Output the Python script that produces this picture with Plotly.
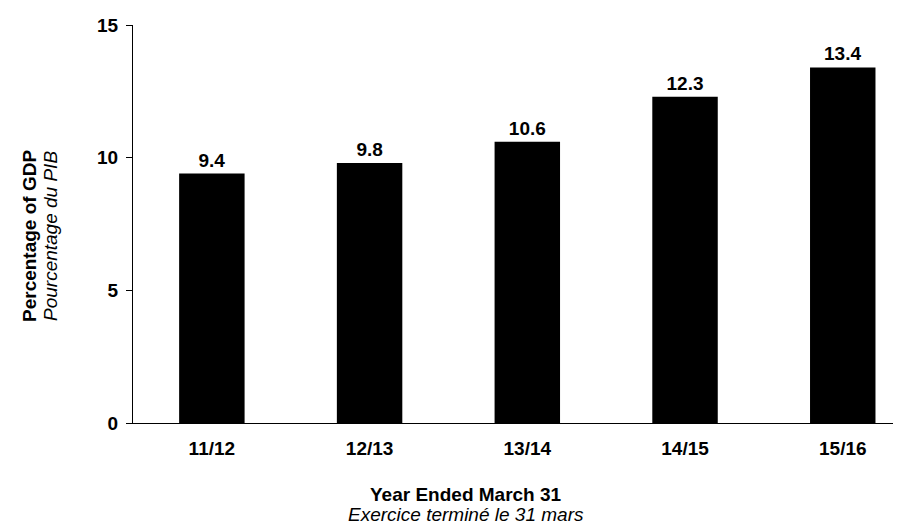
import plotly.graph_objects as go

years = ["11/12", "12/13", "13/14", "14/15", "15/16"]
pct_gdp = [9.4, 9.8, 10.6, 12.3, 13.4]
y_ticks = [0, 5, 10, 15]

FONT = "Liberation Sans, Arial, sans-serif"
W, H = 901, 525
L, R, T, B = 125, 0, 17, 110
FS = 19

fig = go.Figure()
fig.add_trace(go.Bar(
    x=years, y=pct_gdp,
    marker=dict(color="black", line=dict(width=0)),
    width=0.415,
    text=[f"{v:.1f}" for v in pct_gdp],
    textposition="outside",
    textfont=dict(family=FONT, size=FS, color="black", weight="bold"),
    cliponaxis=False,
))

pw = W - L - R
ph = H - T - B

def px_x(x):
    return (x - L) / pw

def px_y(y):
    return 1 - (y - T) / ph

fig.update_layout(
    width=W, height=H,
    margin=dict(l=L, r=R, t=T, b=B, pad=0),
    plot_bgcolor="white", paper_bgcolor="white",
    showlegend=False,
    font=dict(family=FONT, color="black"),
    xaxis=dict(
        type="category", range=[-0.5, 4.42],
        showline=True, linecolor="black", linewidth=1,
        ticks="", showgrid=False, zeroline=False,
        tickfont=dict(family=FONT, size=FS, color="black", weight="bold"),
        ticklabelstandoff=8,
    ),
    yaxis=dict(
        range=[0, 15], tickvals=y_ticks,
        showline=True, linecolor="black", linewidth=1,
        ticks="outside", ticklen=6, tickcolor="black", tickwidth=1,
        showgrid=False, zeroline=False,
        tickfont=dict(family=FONT, size=FS, color="black", weight="bold"),
        ticklabelstandoff=4,
    ),
    annotations=[
        dict(
            text="<b>Percentage of GDP</b>",
            xref="paper", yref="paper",
            x=px_x(21), y=px_y(228),
            xanchor="center", yanchor="middle",
            textangle=-90, showarrow=False, borderpad=0,
            font=dict(family=FONT, size=FS, color="black"),
        ),
        dict(
            text="<i>Pourcentage du PIB</i>",
            xref="paper", yref="paper",
            x=px_x(42), y=px_y(228),
            xanchor="center", yanchor="middle",
            textangle=-90, showarrow=False, borderpad=0,
            font=dict(family=FONT, size=FS, color="black"),
        ),
        dict(
            text="<b>Year Ended March 31</b>",
            xref="paper", yref="paper",
            x=px_x(458), y=px_y(486),
            xanchor="center", yanchor="middle",
            showarrow=False, borderpad=0,
            font=dict(family=FONT, size=FS, color="black"),
        ),
        dict(
            text="<i>Exercice terminé le 31 mars</i>",
            xref="paper", yref="paper",
            x=px_x(458), y=px_y(506),
            xanchor="center", yanchor="middle",
            showarrow=False, borderpad=0,
            font=dict(family=FONT, size=FS, color="black"),
        ),
    ],
)

fig.write_html("out.html")
